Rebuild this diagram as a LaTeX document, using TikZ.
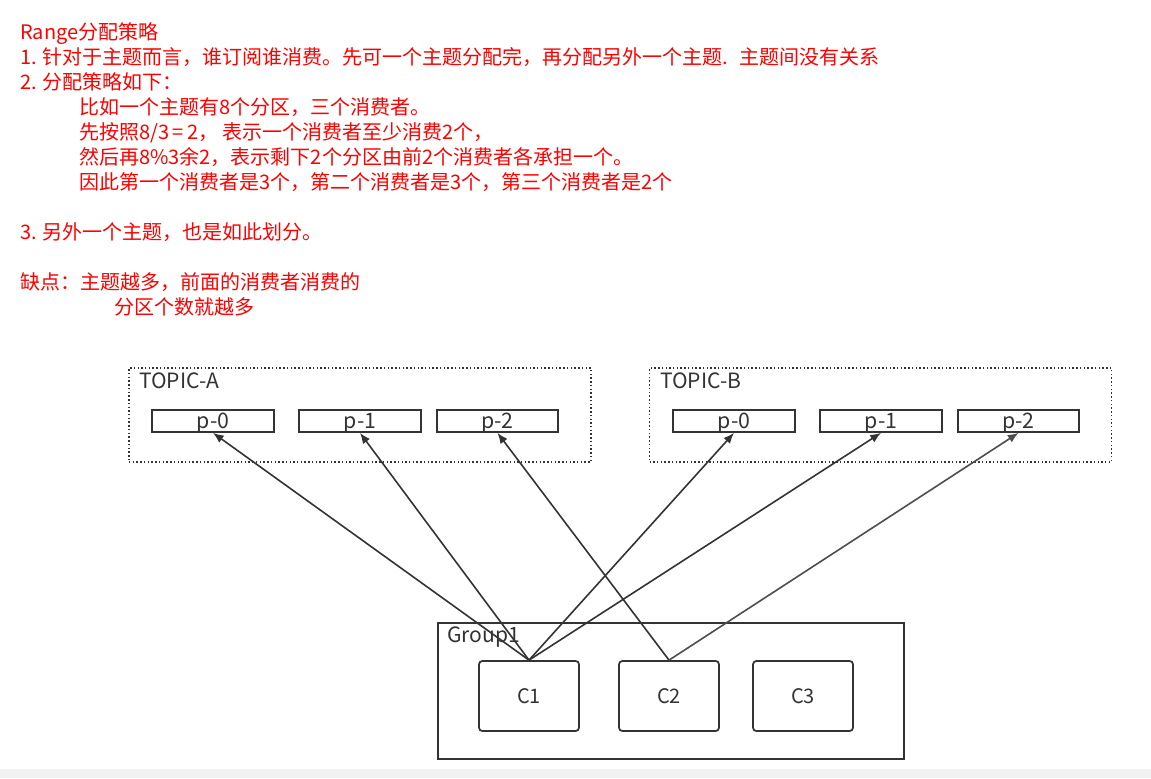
\documentclass[tikz,border=0pt]{standalone}
\usepackage{fontspec}
\usepackage{xcolor}
\setmainfont{Noto Sans CJK SC}
\usetikzlibrary{arrows.meta}
\definecolor{notered}{HTML}{FF0000}
\definecolor{boxgray}{HTML}{333333}
\definecolor{lastgray}{HTML}{4D4D4D}
\definecolor{bandgray}{HTML}{F2F2F2}
\tikzset{
    noteline/.style={anchor=base west, inner sep=0pt, text=notered, font=\fontsize{15}{18}\selectfont},
    topicbox/.style={draw=boxgray, line width=1.1pt, dash pattern=on 1.1pt off 1.7pt, minimum width=346.5pt, minimum height=70.5pt, inner sep=0pt},
    partbox/.style={draw=boxgray, line width=1.3pt, minimum width=91.5pt, minimum height=16.5pt, inner sep=0pt, text height=12pt, text depth=1.5pt, text=boxgray, font=\fontsize{16}{16}\selectfont},
    groupbox/.style={draw=boxgray, line width=1.3pt, minimum width=349.5pt, minimum height=102pt, inner sep=0pt},
    consumerbox/.style={draw=boxgray, line width=1.3pt, rounded corners=2.5pt, minimum width=75pt, minimum height=52.5pt, inner sep=0pt, text height=11pt, text depth=0pt, text=boxgray, font=\fontsize{15}{15}\selectfont},
    boxlabel/.style={anchor=base west, inner sep=0pt, text=boxgray, font=\fontsize{15.8}{16}\selectfont},
    assign/.style={draw=boxgray, line width=1.2pt, -{Latex[length=8pt,width=6.5pt]}},
}
\begin{document}
\begin{tikzpicture}[x=0.75pt,y=-0.75pt]
    \useasboundingbox (0,0) rectangle (1151,778);
    \fill[bandgray] (0,769) rectangle (1151,778);
    % notes
    \node[noteline] (n1) at (20,39) {Range分配策略};
    \node[noteline] (n2) at (20,64) {1. 针对于主题而言，谁订阅谁消费。先可一个主题分配完，再分配另外一个主题.\kern8pt 主题间没有关系};
    \node[noteline] (n3) at (20,89) {2. 分配策略如下：};
    \node[noteline] (n4) at (79,114) {比如一个主题有8个分区，三个消费者。};
    \node[noteline] (n5) at (79,139) {先按照8/3\kern2.5pt=\kern2.5pt2，\kern3pt 表示一个消费者至少消费2个，};
    \node[noteline] (n6) at (79,164) {然后再8\%3余2，表示剩下2个分区由前2个消费者各承担一个。};
    \node[noteline] (n7) at (79,189) {因此第一个消费者是3个，第二个消费者是3个，第三个消费者是2个};
    \node[noteline] (n8) at (20,239) {3. 另外一个主题，也是如此划分。};
    \node[noteline] (n9) at (20,289) {缺点：主题越多，前面的消费者消费的};
    \node[noteline] (n10) at (114,314) {分区个数就越多};
    % topics
    \node[topicbox] (topica) at (360,415) {};
    \node[topicbox] (topicb) at (880.5,415) {};
    \node[boxlabel] (topicalabel) at (139,388) {TOPIC-A};
    \node[boxlabel] (topicblabel) at (660,388) {TOPIC-B};
    \node[partbox] (a0) at (213,421) {p-0};
    \node[partbox] (a1) at (360,421) {p-1};
    \node[partbox, minimum width=90.75pt] (a2) at (497.5,421) {p-2};
    \node[partbox] (b0) at (734,421) {p-0};
    \node[partbox] (b1) at (881,421) {p-1};
    \node[partbox, minimum width=90.75pt] (b2) at (1018.5,421) {p-2};
    % group
    \node[groupbox] (group) at (671,691) {};
    \node[boxlabel] (grouplabel) at (447,642) {Group1};
    \node[consumerbox] (c1) at (529,696) {C1};
    \node[consumerbox] (c2) at (669,696) {C2};
    \node[consumerbox] (c3) at (803,696) {C3};
    % assignments
    \draw[assign] (c1.north) -- (a0.south);
    \draw[assign] (c1.north) -- (a1.south);
    \draw[assign] (c1.north) -- (b0.south);
    \draw[assign] (c1.north) -- (b1.south);
    \draw[assign] (c2.north) -- (a2.south);
    \draw[assign, draw=lastgray] (c2.north) -- (b2.south);
\end{tikzpicture}
\end{document}
